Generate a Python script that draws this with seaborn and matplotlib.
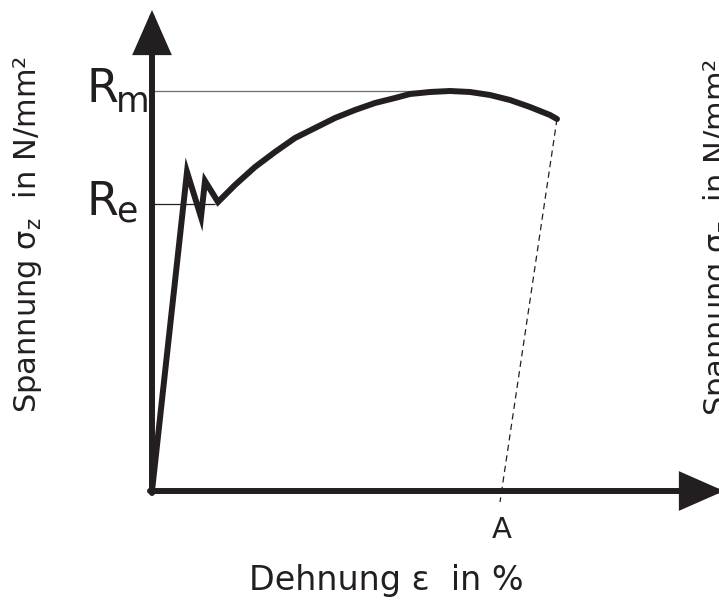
import numpy as np
import pandas as pd
import matplotlib
matplotlib.use("Agg")
import matplotlib.pyplot as plt
import seaborn as sns

# Spannungs-Dehnungs-Kurve (Dehnung in %, Spannung in N/mm^2)
dehnung = [0, 3.5, 4.9, 5.3, 6.6, 8.3, 10.3, 12.3, 14.3, 16.3, 18.3, 20.3,
           22.3, 24.3, 25.8, 27.8, 29.8, 31.8, 33.8, 35.8, 37.8, 39.8, 40.5]
spannung = [0, 319, 274, 310, 289, 306, 324, 339, 353, 363, 373, 381,
            388, 393, 397, 399, 400, 399, 396, 391, 384, 376, 372]

R_m = 400      # Zugfestigkeit
R_e = 287      # Streckgrenze
A = 35.0       # Bruchdehnung

ylabel = "Spannung σ$_\\mathregular{z}$  in N/mm²"
xlabel = "Dehnung ε  in %"

df = pd.DataFrame({"dehnung": dehnung, "spannung": spannung})

sns.set_style("white")
plt.rcParams['font.family'] = ['DejaVu Sans']
ink = "#231f20"

fig = plt.figure(figsize=(7.19, 6.0), dpi=100)
ax = fig.add_axes([0, 0, 1, 1])
ax.set_xlim(-15.2, 56.7)
ax.set_ylim(-109, 491)
ax.axis('off')

# Hilfslinien R_m und R_e
ax.hlines(R_m, 0, 29.8, color="#6d6d6d", lw=0.9)
ax.hlines(R_e, 0, 6.3, color=ink, lw=0.9)

# Kurve
sns.lineplot(data=df, x="dehnung", y="spannung", sort=False, ax=ax,
             color=ink, lw=4.3, solid_joinstyle='miter')

# Bruch -> A (gestrichelt)
ax.plot([dehnung[-1], A - 0.2], [spannung[-1], -11], color=ink, lw=0.9,
        dashes=(5, 3.5))

# Achsen mit Pfeilen
arrow = dict(arrowstyle='-|>,head_length=2.5,head_width=1.1', lw=4.3,
             color=ink, shrinkA=0, shrinkB=0, mutation_scale=10,
             joinstyle='miter')
ax.annotate('', xy=(0, 481), xytext=(0, -2), arrowprops=arrow, annotation_clip=False)
ax.annotate('', xy=(57.2, 0), xytext=(-0.2, 0), arrowprops=arrow, annotation_clip=False)

# Beschriftung
ax.text(-3.4, 389, "R", fontsize=33, ha='right', va='baseline', color=ink)
ax.text(-3.6, 379, "m", fontsize=25, ha='left', va='baseline', color=ink)
ax.text(-3.4, 276, "R", fontsize=33, ha='right', va='baseline', color=ink)
ax.text(-3.6, 269, "e", fontsize=25, ha='left', va='baseline', color=ink)

ax.text(A, -47, "A", fontsize=21, ha='center', va='baseline', color=ink)
ax.text(23.4, -99, xlabel, fontsize=24, ha='center', va='baseline', color=ink)
ax.text(-12.4, 257, ylabel, fontsize=22, rotation=90, ha='center', va='center', color=ink)
ax.text(56.6, 254, ylabel, fontsize=22, rotation=90, ha='center', va='center',
        color=ink, clip_on=False)

fig.savefig("out.png", dpi=100)
